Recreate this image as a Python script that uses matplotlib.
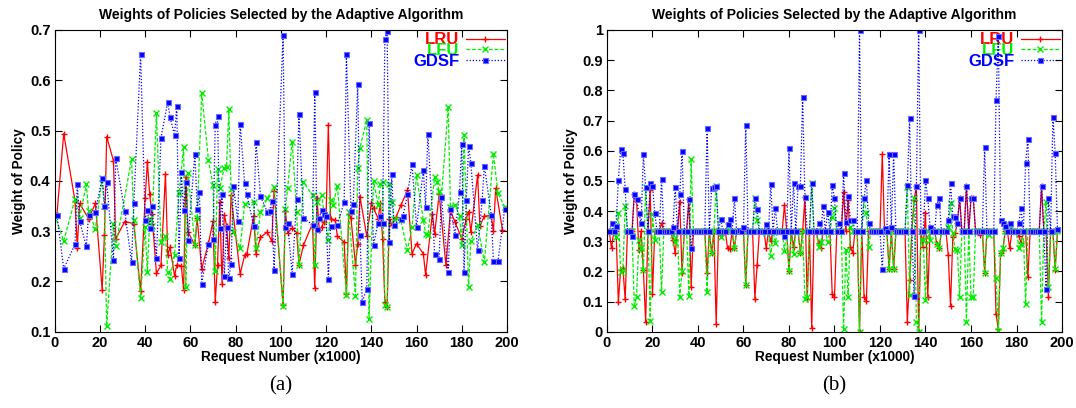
import matplotlib
matplotlib.use("Agg")
import matplotlib.pyplot as plt
from matplotlib.ticker import FormatStrFormatter, MultipleLocator

plt.rcParams['font.family'] = ['Liberation Sans', 'DejaVu Sans']
plt.rcParams['font.weight'] = 'bold'

TITLE = "Weights of Policies Selected by the Adaptive Algorithm"
XLABEL = "Request Number (x1000)"
YLABEL = "Weight of Policy"
NAMES = ["LRU", "LFU", "GDSF"]

# ---------------- panel (a) ----------------
a_lru_x = [0, 1, 4, 9, 10, 11, 15, 18, 21, 22, 23, 26, 27, 31, 35, 38, 40, 41, 42, 43,
           45, 47, 49, 50, 51, 53, 54, 56, 57, 58, 59, 62, 63, 65, 68, 70, 71, 72, 73, 74,
           75, 76, 77, 78, 82, 84, 85, 88, 89, 91, 94, 96, 97, 101, 102, 103, 105, 107, 108, 110,
           114, 115, 116, 117, 118, 119, 120, 121, 122, 124, 125, 128, 129, 130, 131, 133, 134, 135, 138, 140,
           141, 143, 144, 145, 146, 147, 148, 149, 151, 153, 156, 158, 160, 163, 164, 167, 168, 170, 173, 175,
           177, 180, 182, 183, 184, 187, 188, 190, 193, 194, 195, 198]
a_lru_y = [.333, .333, .494, .36, .267, .355, .325, .355, .183, .292, .488, .44, .285, .319, .315, .18, .365, .438, .373, .335,
           .216, .232, .414, .252, .268, .211, .233, .231, .183, .408, .298, .272, .326, .225, .276, .32, .159, .232, .358, .195,
           .333, .311, .247, .371, .215, .252, .255, .331, .255, .288, .298, .28, .38, .153, .341, .297, .306, .297, .233, .272,
           .315, .187, .366, .302, .308, .318, .328, .512, .325, .322, .29, .278, .174, .335, .326, .233, .275, .368, .29, .355,
           .346, .325, .355, .285, .159, .15, .325, .312, .328, .351, .381, .255, .275, .255, .213, .335, .295, .373, .232, .341,
           .318, .285, .325, .339, .298, .412, .31, .33, .331, .3, .385, .302]

a_lfu_x = [0, 4, 9, 11, 14, 15, 18, 21, 22, 23, 26, 27, 34, 35, 38, 40, 41, 42, 43, 45,
           47, 49, 50, 51, 53, 55, 57, 58, 59, 62, 63, 65, 68, 70, 71, 72, 73, 75, 76, 77,
           78, 79, 82, 84, 88, 89, 91, 94, 97, 101, 102, 103, 105, 107, 108, 110, 114, 115, 116, 118,
           121, 122, 123, 125, 129, 130, 133, 134, 135, 138, 139, 141, 143, 144, 145, 146, 147, 148, 149, 150,
           153, 156, 158, 160, 163, 164, 165, 168, 169, 170, 171, 174, 175, 177, 179, 180, 181, 183, 184, 187,
           190, 194, 196, 199]
a_lfu_y = [.333, .28, .364, .327, .393, .34, .304, .406, .35, .111, .315, .27, .443, .322, .167, .309, .218, .325, .31, .534,
           .279, .29, .219, .205, .252, .375, .468, .189, .415, .272, .326, .575, .441, .391, .22, .424, .386, .426, .428, .542,
           .383, .298, .266, .353, .358, .266, .338, .365, .388, .152, .345, .385, .478, .338, .232, .398, .371, .233, .358, .371,
           .282, .361, .351, .39, .172, .338, .171, .426, .466, .521, .126, .399, .351, .393, .398, .153, .15, .393, .358, .325,
           .322, .262, .308, .411, .322, .295, .292, .408, .398, .379, .368, .547, .348, .351, .331, .273, .492, .189, .28, .312,
           .238, .454, .375, .348]

a_gdsf_x = [0, 1, 4, 9, 10, 11, 14, 15, 18, 21, 22, 23, 26, 27, 31, 34, 35, 38, 40, 41,
            42, 43, 45, 47, 50, 51, 53, 54, 55, 56, 57, 58, 59, 62, 63, 64, 65, 68, 70, 71,
            72, 73, 74, 75, 76, 77, 78, 79, 81, 82, 84, 85, 88, 89, 91, 94, 95, 96, 97, 101,
            102, 103, 105, 107, 108, 110, 114, 115, 116, 117, 118, 119, 120, 121, 122, 125, 128, 129, 131, 132,
            134, 135, 136, 138, 139, 141, 143, 144, 145, 146, 147, 148, 149, 150, 153, 154, 156, 158, 160, 163,
            164, 165, 168, 170, 171, 174, 175, 177, 179, 180, 181, 182, 183, 184, 187, 189, 190, 193, 194, 196,
            199]
a_gdsf_y = [.333, .333, .225, .274, .393, .32, .27, .333, .339, .406, .349, .398, .242, .445, .34, .238, .355, .652, .323, .343,
            .307, .35, .247, .486, .557, .527, .491, .549, .247, .418, .343, .398, .282, .454, .345, .377, .195, .275, .285, .512,
            .529, .307, .373, .21, .308, .207, .234, .39, .32, .514, .395, .373, .31, .478, .37, .338, .34, .359, .222, .691,
            .308, .317, .215, .363, .532, .326, .313, .576, .304, .326, .343, .335, .331, .205, .311, .313, .357, .652, .341, .353,
            .592, .293, .16, .185, .516, .273, .317, .33, .317, .682, .698, .278, .413, .313, .325, .331, .373, .434, .308, .421,
            .348, .494, .255, .245, .368, .218, .345, .293, .377, .474, .219, .361, .47, .436, .262, .361, .43, .333, .24, .24,
            .345]

# ---------------- panel (b) ----------------
E = 0.333  # equal weight
b_x = list(range(199))
b_lru = [E, E, .276, E, E, .099, .204, .21, .107, E,
         E, E, .458, .44, .27, E, .205, .033, E, .47,
         .125, E, E, E, .36, E, E, E, E, .304,
         .26, E, .43, .193, E, E, .44, .148, E, E,
         E, E, E, E, .193, E, .26, E, .025, E,
         .32, E, E, .276, .273, E, .276, E, E, E,
         E, .155, E, E, E, .11, .221, E, E, E,
         .276, E, .3, E, E, E, E, E, .42, E,
         .2, E, .282, E, E, .26, E, .445, .107, E,
         .011, E, E, .293, .276, E, E, E, E, .125,
         .116, E, E, E, .464, E, .436, .282, .26, E,
         E, 0.0, E, .116, .102, E, E, E, E, E,
         E, .589, E, E, .207, E, .207, E, E, E,
         E, E, .033, .171, E, .436, .484, 0.0, E, .28,
         .394, .116, E, E, E, .29, .276, E, E, E,
         .254, .085, .313, .326, .36, .442, E, E, .484, E,
         .442, .442, E, E, .32, E, .196, E, E, E,
         E, .059, .008, .26, .27, E, E, .276, E, E,
         E, .317, .295, E, E, .18, E, E, E, E,
         E, .484, E, E, .116, E, E, .204, E]
b_lfu = [E, E, E, E, .315, .394, .199, .204, .417, E,
         E, E, .085, .116, .304, .276, .205, .48, E, .036,
         .39, .304, E, E, .133, E, E, E, E, .32,
         .298, E, .116, .2, E, E, .118, .571, E, E,
         E, E, E, E, .13, E, .26, E, .484, E,
         .315, E, E, .35, E, E, .276, E, E, E,
         E, .155, E, E, E, .442, .37, E, E, E,
         .326, E, .25, E, .295, E, E, E, .268, E,
         .2, E, .257, E, E, .26, E, .11, .114, E,
         .492, E, E, .28, .298, E, E, .298, E, .38,
         .41, E, E, E, .008, .27, .116, .348, E, E,
         E, 0.0, E, .442, .394, .28, E, E, E, E,
         E, E, E, E, .207, E, .207, E, E, E,
         E, E, .48, .122, E, .442, .033, 0.0, E, .304,
         .105, E, .304, E, E, .29, .276, E, E, E,
         .348, .425, .326, .273, .271, .116, E, E, .033, E,
         .116, .116, E, E, E, E, .193, E, .32, E,
         E, .177, .003, .26, .276, E, E, .354, E, E,
         E, .276, .29, E, .092, E, E, E, E, E,
         E, .033, E, .43, .149, E, E, .207, E]
b_gdsf = [E, E, .36, E, .35, .503, .604, .591, .472, E,
          E, .318, .455, .44, .395, .36, .588, .48, E, .492,
          .484, .395, E, E, .505, E, E, E, E, .347,
          .48, E, .456, .6, E, E, .44, .276, E, E,
          E, E, E, E, .674, E, .475, .48, .484, E,
          .372, E, E, .357, .372, E, .442, E, .337, E,
          .346, .685, E, E, E, .442, .407, E, E, E,
          .357, E, .49, E, .409, E, E, E, .316, E,
          .608, E, .492, E, .484, .484, .779, .445, E, E,
          .492, E, E, .36, E, .418, E, .398, E, .486,
          .442, E, .36, E, .525, .362, .45, .37, .37, E,
          E, 1.0, E, .442, .503, .36, E, E, E, E,
          E, .207, .343, E, .589, .348, .589, E, E, E,
          E, E, .486, .707, E, .118, .484, 1.0, E, E,
          .503, .442, .348, E, E, .42, .442, E, E, E,
          .37, .492, .383, .379, .36, .442, E, E, .484, E,
          .442, .442, E, E, E, E, .613, E, E, E,
          E, .768, .98, .37, .36, .35, E, .36, E, E,
          E, .36, .409, E, .558, .64, E, E, E, E,
          E, .484, E, .14, .442, E, .713, .593, .339]

styles = [
    dict(color='#ff0000', linestyle='-', marker='+', markersize=5, mew=1.0),
    dict(color='#00ee00', linestyle=(0, (3, 1.5)), marker='x', markersize=4, mew=1.0),
    dict(color='#0000ff', linestyle=(0, (1, 1.5)), marker='s', markersize=3.6, mew=0.8,
         mfc='#0000ff', mec='#6a6aff'),
]


def draw_panel(ax, series, ylim, ystep, letter):
    for (xs, ys), name, st in zip(series, NAMES, styles):
        ax.plot(xs, ys, label=name, lw=0.9, **st)
    ax.set_xlim(0, 200)
    ax.set_ylim(*ylim)
    ax.xaxis.set_major_locator(MultipleLocator(20))
    ax.yaxis.set_major_locator(MultipleLocator(ystep))
    ax.yaxis.set_major_formatter(FormatStrFormatter('%g'))
    ax.tick_params(direction='in', top=True, right=True, length=5, width=0.8,
                   labelsize=10.5, pad=3)
    for lab in ax.get_xticklabels() + ax.get_yticklabels():
        lab.set_fontweight('bold')
    ax.set_title(TITLE, fontsize=10, fontweight='bold', pad=8)
    ax.set_xlabel(XLABEL, fontsize=9.8, fontweight='bold', labelpad=0)
    ax.set_ylabel(YLABEL, fontsize=9.8, fontweight='bold', labelpad=3)
    leg = ax.legend(loc='upper right', markerfirst=False, frameon=False,
                    labelspacing=-0.25, handlelength=2.3,
                    handletextpad=0.4, borderaxespad=0.05, borderpad=0.1,
                    labelcolor='linecolor', prop={'weight': 'bold', 'size': 12})
    leg.set_zorder(1)
    ax.text(0.5, -0.18, letter, transform=ax.transAxes, ha='center', va='center',
            fontsize=15, fontweight='normal', family='Liberation Serif')


fig = plt.figure(figsize=(10.76, 4.08), dpi=100)
ax1 = fig.add_axes([0.0508, 0.187, 0.4204, 0.7395])
ax2 = fig.add_axes([0.5641, 0.187, 0.4229, 0.7395])

draw_panel(ax1, [(a_lru_x, a_lru_y), (a_lfu_x, a_lfu_y), (a_gdsf_x, a_gdsf_y)],
           (0.1, 0.7), 0.1, "(a)")
draw_panel(ax2, [(b_x, b_lru), (b_x, b_lfu), (b_x, b_gdsf)],
           (0, 1), 0.1, "(b)")

fig.savefig("out.png", dpi=100)
